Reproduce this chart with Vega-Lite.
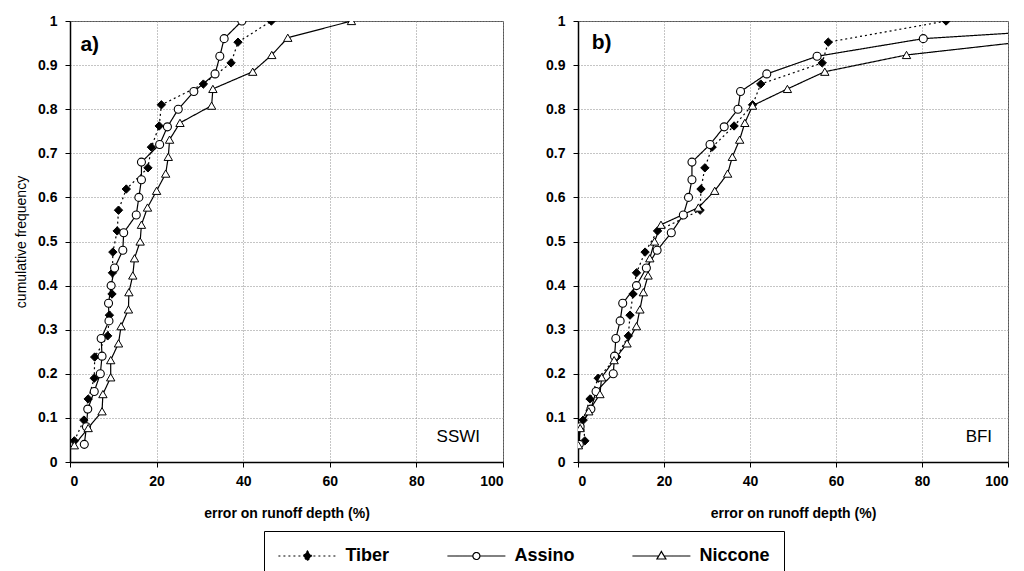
{
  "$schema": "https://vega.github.io/schema/vega-lite/v6.json",
  "padding": {"left": 14, "top": 13, "right": 0, "bottom": 0},
  "background": "white",
  "bounds": "flush",
  "spacing": 75,
  "config": {
    "font": "Liberation Sans",
    "view": {"stroke": "#555", "strokeWidth": 1},
    "axis": {
      "labelFont": "Liberation Sans", "labelFontWeight": "bold", "labelFontSize": 14, "labelColor": "black",
      "titleFont": "Liberation Sans", "titleFontSize": 14, "titleColor": "black",
      "domainColor": "black", "domainWidth": 1.5, "tickColor": "black", "tickSize": 5, "tickWidth": 1,
      "gridColor": "#8a8a8a", "gridDash": [1, 2], "gridWidth": 1, "labelPadding": 7
    }
  },
  "datasets": {
    "cdf": [
      {"p":"a","s":"Tiber","x":1.0,"y":0.048},{"p":"a","s":"Tiber","x":3.2,"y":0.095},{"p":"a","s":"Tiber","x":4.2,"y":0.143},{"p":"a","s":"Tiber","x":5.6,"y":0.190},{"p":"a","s":"Tiber","x":5.7,"y":0.238},{"p":"a","s":"Tiber","x":8.7,"y":0.286},{"p":"a","s":"Tiber","x":9.1,"y":0.333},{"p":"a","s":"Tiber","x":9.7,"y":0.381},{"p":"a","s":"Tiber","x":9.8,"y":0.429},{"p":"a","s":"Tiber","x":9.9,"y":0.476},{"p":"a","s":"Tiber","x":10.9,"y":0.524},{"p":"a","s":"Tiber","x":11.2,"y":0.571},{"p":"a","s":"Tiber","x":13.0,"y":0.619},{"p":"a","s":"Tiber","x":18.0,"y":0.667},{"p":"a","s":"Tiber","x":18.8,"y":0.714},{"p":"a","s":"Tiber","x":20.6,"y":0.762},{"p":"a","s":"Tiber","x":21.1,"y":0.810},{"p":"a","s":"Tiber","x":30.8,"y":0.857},{"p":"a","s":"Tiber","x":37.2,"y":0.905},{"p":"a","s":"Tiber","x":38.8,"y":0.952},{"p":"a","s":"Tiber","x":46.5,"y":1.0},
      {"p":"a","s":"Assino","x":3.3,"y":0.04},{"p":"a","s":"Assino","x":3.8,"y":0.08},{"p":"a","s":"Assino","x":4.1,"y":0.12},{"p":"a","s":"Assino","x":5.6,"y":0.16},{"p":"a","s":"Assino","x":7.0,"y":0.20},{"p":"a","s":"Assino","x":7.4,"y":0.24},{"p":"a","s":"Assino","x":7.2,"y":0.28},{"p":"a","s":"Assino","x":9.0,"y":0.32},{"p":"a","s":"Assino","x":8.9,"y":0.36},{"p":"a","s":"Assino","x":9.5,"y":0.40},{"p":"a","s":"Assino","x":10.3,"y":0.44},{"p":"a","s":"Assino","x":12.2,"y":0.48},{"p":"a","s":"Assino","x":12.4,"y":0.52},{"p":"a","s":"Assino","x":15.3,"y":0.56},{"p":"a","s":"Assino","x":15.9,"y":0.60},{"p":"a","s":"Assino","x":16.5,"y":0.64},{"p":"a","s":"Assino","x":16.5,"y":0.68},{"p":"a","s":"Assino","x":20.7,"y":0.72},{"p":"a","s":"Assino","x":22.5,"y":0.76},{"p":"a","s":"Assino","x":25.0,"y":0.80},{"p":"a","s":"Assino","x":28.6,"y":0.84},{"p":"a","s":"Assino","x":33.5,"y":0.88},{"p":"a","s":"Assino","x":34.6,"y":0.92},{"p":"a","s":"Assino","x":35.6,"y":0.96},{"p":"a","s":"Assino","x":39.7,"y":1.0},
      {"p":"a","s":"Niccone","x":1.0,"y":0.038},{"p":"a","s":"Niccone","x":4.2,"y":0.077},{"p":"a","s":"Niccone","x":7.4,"y":0.115},{"p":"a","s":"Niccone","x":7.6,"y":0.154},{"p":"a","s":"Niccone","x":9.4,"y":0.192},{"p":"a","s":"Niccone","x":9.4,"y":0.231},{"p":"a","s":"Niccone","x":11.2,"y":0.269},{"p":"a","s":"Niccone","x":11.8,"y":0.308},{"p":"a","s":"Niccone","x":13.5,"y":0.346},{"p":"a","s":"Niccone","x":13.6,"y":0.385},{"p":"a","s":"Niccone","x":14.5,"y":0.423},{"p":"a","s":"Niccone","x":14.9,"y":0.462},{"p":"a","s":"Niccone","x":16.2,"y":0.5},{"p":"a","s":"Niccone","x":16.5,"y":0.538},{"p":"a","s":"Niccone","x":17.9,"y":0.577},{"p":"a","s":"Niccone","x":20.0,"y":0.615},{"p":"a","s":"Niccone","x":22.1,"y":0.654},{"p":"a","s":"Niccone","x":22.7,"y":0.692},{"p":"a","s":"Niccone","x":23.0,"y":0.731},{"p":"a","s":"Niccone","x":25.4,"y":0.769},{"p":"a","s":"Niccone","x":32.7,"y":0.808},{"p":"a","s":"Niccone","x":33.0,"y":0.846},{"p":"a","s":"Niccone","x":42.2,"y":0.885},{"p":"a","s":"Niccone","x":46.6,"y":0.923},{"p":"a","s":"Niccone","x":50.3,"y":0.962},{"p":"a","s":"Niccone","x":65.0,"y":1.0},
      {"p":"b","s":"Tiber","x":1.6,"y":0.048},{"p":"b","s":"Tiber","x":1.2,"y":0.095},{"p":"b","s":"Tiber","x":2.8,"y":0.143},{"p":"b","s":"Tiber","x":4.7,"y":0.190},{"p":"b","s":"Tiber","x":9.0,"y":0.238},{"p":"b","s":"Tiber","x":11.7,"y":0.286},{"p":"b","s":"Tiber","x":12.1,"y":0.333},{"p":"b","s":"Tiber","x":12.8,"y":0.381},{"p":"b","s":"Tiber","x":13.6,"y":0.429},{"p":"b","s":"Tiber","x":15.6,"y":0.476},{"p":"b","s":"Tiber","x":18.5,"y":0.524},{"p":"b","s":"Tiber","x":28.4,"y":0.571},{"p":"b","s":"Tiber","x":28.6,"y":0.619},{"p":"b","s":"Tiber","x":29.5,"y":0.667},{"p":"b","s":"Tiber","x":31.2,"y":0.714},{"p":"b","s":"Tiber","x":36.3,"y":0.762},{"p":"b","s":"Tiber","x":40.6,"y":0.810},{"p":"b","s":"Tiber","x":42.5,"y":0.857},{"p":"b","s":"Tiber","x":56.8,"y":0.905},{"p":"b","s":"Tiber","x":58.2,"y":0.952},{"p":"b","s":"Tiber","x":85.6,"y":1.0},
      {"p":"b","s":"Assino","x":0.3,"y":0.04},{"p":"b","s":"Assino","x":0.5,"y":0.08},{"p":"b","s":"Assino","x":3.0,"y":0.12},{"p":"b","s":"Assino","x":4.2,"y":0.16},{"p":"b","s":"Assino","x":8.2,"y":0.20},{"p":"b","s":"Assino","x":8.5,"y":0.24},{"p":"b","s":"Assino","x":8.8,"y":0.28},{"p":"b","s":"Assino","x":9.8,"y":0.32},{"p":"b","s":"Assino","x":10.4,"y":0.36},{"p":"b","s":"Assino","x":13.6,"y":0.40},{"p":"b","s":"Assino","x":15.9,"y":0.44},{"p":"b","s":"Assino","x":18.4,"y":0.48},{"p":"b","s":"Assino","x":21.7,"y":0.52},{"p":"b","s":"Assino","x":24.5,"y":0.56},{"p":"b","s":"Assino","x":25.7,"y":0.60},{"p":"b","s":"Assino","x":26.5,"y":0.64},{"p":"b","s":"Assino","x":26.5,"y":0.68},{"p":"b","s":"Assino","x":30.7,"y":0.72},{"p":"b","s":"Assino","x":34.0,"y":0.76},{"p":"b","s":"Assino","x":37.2,"y":0.80},{"p":"b","s":"Assino","x":37.8,"y":0.84},{"p":"b","s":"Assino","x":43.9,"y":0.88},{"p":"b","s":"Assino","x":55.6,"y":0.92},{"p":"b","s":"Assino","x":80.3,"y":0.96},{"p":"b","s":"Assino","x":146.0,"y":1.0},
      {"p":"b","s":"Niccone","x":0.1,"y":0.038},{"p":"b","s":"Niccone","x":0.5,"y":0.077},{"p":"b","s":"Niccone","x":2.5,"y":0.115},{"p":"b","s":"Niccone","x":5.1,"y":0.154},{"p":"b","s":"Niccone","x":5.5,"y":0.192},{"p":"b","s":"Niccone","x":8.4,"y":0.231},{"p":"b","s":"Niccone","x":11.4,"y":0.269},{"p":"b","s":"Niccone","x":13.6,"y":0.308},{"p":"b","s":"Niccone","x":14.4,"y":0.346},{"p":"b","s":"Niccone","x":15.2,"y":0.385},{"p":"b","s":"Niccone","x":16.3,"y":0.423},{"p":"b","s":"Niccone","x":16.7,"y":0.462},{"p":"b","s":"Niccone","x":17.8,"y":0.5},{"p":"b","s":"Niccone","x":19.3,"y":0.538},{"p":"b","s":"Niccone","x":28.0,"y":0.577},{"p":"b","s":"Niccone","x":31.8,"y":0.615},{"p":"b","s":"Niccone","x":34.8,"y":0.654},{"p":"b","s":"Niccone","x":35.9,"y":0.692},{"p":"b","s":"Niccone","x":37.6,"y":0.731},{"p":"b","s":"Niccone","x":38.8,"y":0.769},{"p":"b","s":"Niccone","x":40.6,"y":0.808},{"p":"b","s":"Niccone","x":48.7,"y":0.846},{"p":"b","s":"Niccone","x":57.4,"y":0.885},{"p":"b","s":"Niccone","x":76.4,"y":0.923},{"p":"b","s":"Niccone","x":112.0,"y":0.962},{"p":"b","s":"Niccone","x":150.0,"y":1.0}
    ]
  },
  "hconcat": [
    {
      "width": 433, "height": 441,
      "layer": [
        {
          "data": {"name": "cdf"},
          "transform": [{"filter": "datum.p == 'a'"}],
          "mark": {"type": "line", "clip": true, "strokeWidth": 1.2, "color": "black"},
          "encoding": {
            "x": {"field": "x", "type": "quantitative", "scale": {"domain": [0, 100], "nice": false},
                  "axis": {"values": [0, 20, 40, 60, 80, 100], "title": "error on runoff depth (%)", "titleFontWeight": "bold", "titleFontSize": 14, "titlePadding": 18}},
            "y": {"field": "y", "type": "quantitative", "scale": {"domain": [0, 1], "nice": false},
                  "axis": {"values": [0, 0.1, 0.2, 0.3, 0.4, 0.5, 0.6, 0.7, 0.8, 0.9, 1], "format": ".1~f", "title": "cumulative frequency", "titleFontWeight": "normal", "titlePadding": 9, "labelPadding": 8}},
            "order": {"field": "y", "type": "quantitative"},
            "strokeDash": {"field": "s", "type": "nominal", "scale": {"domain": ["Tiber", "Assino", "Niccone"], "range": [[2, 3], [1, 0], [1, 0]]},
              "legend": {
                "orient": "none", "legendX": 194, "legendY": 510, "direction": "horizontal", "title": null,
                "strokeColor": "black", "fillColor": "white", "padding": 14,
                "labelFont": "Liberation Sans", "labelFontSize": 18, "labelFontWeight": "bold", "labelColor": "black",
                "symbolSize": 400, "symbolStrokeWidth": 1.2, "symbolStrokeColor": "black",
                "symbolOffset": 18.4, "labelOffset": 27, "columnPadding": 55,
                "encode": {"symbols": {"update": {
                  "shape": {"signal": "datum.value == 'Tiber' ? 'M-2.9,0H2.9M0,-0.5L0.42,0L0,0.5L-0.42,0Z' : datum.value == 'Assino' ? 'M-2.9,0H-0.35M0.35,0H2.9M0.35,0A0.35,0.35,0,1,1,-0.35,0A0.35,0.35,0,1,1,0.35,0Z' : 'M-2.9,0H-0.27M0.27,0H2.9M0,-0.45L0.45,0.3L-0.45,0.3Z'"},
                  "fill": {"signal": "datum.value == 'Tiber' ? 'black' : 'white'"},
                  "stroke": {"value": "black"},
                  "opacity": {"value": 1}
                }}}
              }}
          }
        },
        {
          "data": {"name": "cdf"},
          "transform": [{"filter": "datum.p == 'a' && datum.s == 'Tiber'"}],
          "mark": {"type": "point", "clip": true, "shape": "diamond", "filled": true, "fill": "black", "stroke": "black", "strokeWidth": 1, "opacity": 1, "size": 70},
          "encoding": {"x": {"field": "x", "type": "quantitative"}, "y": {"field": "y", "type": "quantitative"}}
        },
        {
          "data": {"name": "cdf"},
          "transform": [{"filter": "datum.p == 'a' && datum.s == 'Assino'"}],
          "mark": {"type": "point", "clip": true, "shape": "circle", "filled": true, "fill": "white", "stroke": "black", "strokeWidth": 1.1, "opacity": 1, "size": 64},
          "encoding": {"x": {"field": "x", "type": "quantitative"}, "y": {"field": "y", "type": "quantitative"}}
        },
        {
          "data": {"name": "cdf"},
          "transform": [{"filter": "datum.p == 'a' && datum.s == 'Niccone'"}],
          "mark": {"type": "point", "clip": true, "shape": "triangle-up", "filled": true, "fill": "white", "stroke": "black", "strokeWidth": 1, "opacity": 1, "size": 70},
          "encoding": {"x": {"field": "x", "type": "quantitative"}, "y": {"field": "y", "type": "quantitative"}}
        },
        {
          "data": {"values": [{"label": "a)"}]},
          "mark": {"type": "text", "fontSize": 21, "fontWeight": "bold", "align": "left", "baseline": "middle", "font": "Liberation Sans", "color": "black"},
          "encoding": {"x": {"datum": 2.4, "type": "quantitative"}, "y": {"datum": 0.946, "type": "quantitative"}, "text": {"field": "label"}}
        },
        {
          "data": {"values": [{"label": "SSWI"}]},
          "mark": {"type": "text", "fontSize": 17, "align": "right", "baseline": "middle", "font": "Liberation Sans", "color": "black"},
          "encoding": {"x": {"datum": 94.7, "type": "quantitative"}, "y": {"datum": 0.056, "type": "quantitative"}, "text": {"field": "label"}}
        }
      ]
    },
    {
      "width": 430, "height": 441,
      "layer": [
        {
          "data": {"name": "cdf"},
          "transform": [{"filter": "datum.p == 'b'"}],
          "mark": {"type": "line", "clip": true, "strokeWidth": 1.2, "color": "black"},
          "encoding": {
            "x": {"field": "x", "type": "quantitative", "scale": {"domain": [0, 100], "nice": false},
                  "axis": {"values": [0, 20, 40, 60, 80, 100], "title": "error on runoff depth (%)", "titleFontWeight": "bold", "titleFontSize": 14, "titlePadding": 18}},
            "y": {"field": "y", "type": "quantitative", "scale": {"domain": [0, 1], "nice": false},
                  "axis": {"values": [0, 0.1, 0.2, 0.3, 0.4, 0.5, 0.6, 0.7, 0.8, 0.9, 1], "format": ".1~f", "title": null, "labelPadding": 8}},
            "order": {"field": "y", "type": "quantitative"},
            "strokeDash": {"field": "s", "type": "nominal", "scale": {"domain": ["Tiber", "Assino", "Niccone"], "range": [[2, 3], [1, 0], [1, 0]]}}
          }
        },
        {
          "data": {"name": "cdf"},
          "transform": [{"filter": "datum.p == 'b' && datum.s == 'Tiber'"}],
          "mark": {"type": "point", "clip": true, "shape": "diamond", "filled": true, "fill": "black", "stroke": "black", "strokeWidth": 1, "opacity": 1, "size": 70},
          "encoding": {"x": {"field": "x", "type": "quantitative"}, "y": {"field": "y", "type": "quantitative"}}
        },
        {
          "data": {"name": "cdf"},
          "transform": [{"filter": "datum.p == 'b' && datum.s == 'Assino'"}],
          "mark": {"type": "point", "clip": true, "shape": "circle", "filled": true, "fill": "white", "stroke": "black", "strokeWidth": 1.1, "opacity": 1, "size": 64},
          "encoding": {"x": {"field": "x", "type": "quantitative"}, "y": {"field": "y", "type": "quantitative"}}
        },
        {
          "data": {"name": "cdf"},
          "transform": [{"filter": "datum.p == 'b' && datum.s == 'Niccone'"}],
          "mark": {"type": "point", "clip": true, "shape": "triangle-up", "filled": true, "fill": "white", "stroke": "black", "strokeWidth": 1, "opacity": 1, "size": 70},
          "encoding": {"x": {"field": "x", "type": "quantitative"}, "y": {"field": "y", "type": "quantitative"}}
        },
        {
          "data": {"values": [{"label": "b)"}]},
          "mark": {"type": "text", "fontSize": 21, "fontWeight": "bold", "align": "left", "baseline": "middle", "font": "Liberation Sans", "color": "black"},
          "encoding": {"x": {"datum": 3.2, "type": "quantitative"}, "y": {"datum": 0.95, "type": "quantitative"}, "text": {"field": "label"}}
        },
        {
          "data": {"values": [{"label": "BFI"}]},
          "mark": {"type": "text", "fontSize": 17, "align": "right", "baseline": "middle", "font": "Liberation Sans", "color": "black"},
          "encoding": {"x": {"datum": 96.3, "type": "quantitative"}, "y": {"datum": 0.056, "type": "quantitative"}, "text": {"field": "label"}}
        }
      ]
    }
  ]
}
